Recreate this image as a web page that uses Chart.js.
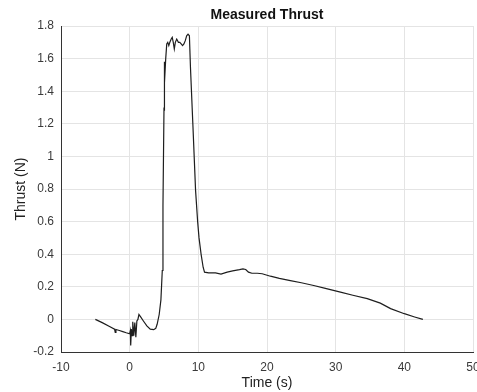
<!DOCTYPE html>
<html>
<head>
<meta charset="utf-8">
<script src="https://cdn.jsdelivr.net/npm/chart.js@4/dist/chart.umd.min.js"></script>
<style>
  html, body { margin: 0; padding: 0; background: #fff; }
  #wrap { width: 477px; height: 392px; }
</style>
</head>
<body>
<div id="wrap"><canvas id="thrustChart" width="477" height="392"></canvas></div>
<script>
// measured thrust
const timeValues = [
  -5, -4, -3, -2.2, -2.1, -2.0, -1.5, -1, -0.5, 0,
  0.1, 0.15, 0.25, 0.35, 0.45, 0.6, 0.75, 0.9, 1.05, 1.2,
  1.35, 1.6, 2.0, 2.5, 3.0, 3.5, 3.8, 4.0, 4.3, 4.55,
  4.75, 4.85, 4.95, 5.0, 5.02, 5.06, 5.12, 5.25, 5.4, 5.55,
  5.7, 5.85, 6.05, 6.2, 6.35, 6.5, 6.65, 6.85, 7.1, 7.3,
  7.5, 7.7, 7.9, 8.1, 8.3, 8.5, 8.7, 8.85, 9.2, 9.6,
  9.9, 10.1, 10.4, 10.7, 10.9, 11.5, 12.5, 13.3, 14.2, 15,
  16, 16.5, 16.9, 17.3, 17.8, 18.6, 19.3, 20.5, 21.8, 23.4,
  25, 26.8, 28.5, 30.7, 32.5, 34.6, 36.5, 38, 40, 41.5, 42.7
];
const thrustValues = [
  0, -0.02, -0.042, -0.06, -0.08, -0.062, -0.068, -0.075, -0.082, -0.088,
  -0.07, -0.16, -0.06, -0.1, -0.015, -0.1, -0.02, -0.11, -0.01, 0.0,
  0.03, 0.015, -0.01, -0.04, -0.06, -0.063, -0.055, -0.03, 0.03, 0.12,
  0.3, 0.7, 1.1, 1.3, 1.58, 1.28, 1.45, 1.6, 1.69, 1.70,
  1.68, 1.70, 1.72, 1.73, 1.70, 1.66, 1.70, 1.72, 1.70, 1.70,
  1.69, 1.68, 1.69, 1.71, 1.74, 1.75, 1.74, 1.55, 1.2, 0.79,
  0.6, 0.5, 0.4, 0.32, 0.29, 0.285, 0.285, 0.278, 0.29, 0.298,
  0.305, 0.31, 0.306, 0.29, 0.283, 0.283, 0.28, 0.265, 0.252, 0.238,
  0.225, 0.208, 0.19, 0.167, 0.148, 0.127, 0.1, 0.066, 0.035, 0.015, 0.0
];
const xTicks = [-10, 0, 10, 20, 30, 40, 50];
const yTicks = [-0.2, 0, 0.2, 0.4, 0.6, 0.8, 1, 1.2, 1.4, 1.6, 1.8];

const chartTitle = 'Measured Thrust';
const fontFamily = '"Liberation Sans", Arial, sans-serif';
const textColor = '#3a3a3a';
const gridColor = '#e4e4e4';

let points = timeValues.map((t, i) => ({ x: t, y: thrustValues[i] }));

// title is centred over the plot area like matlab does
const titlePlugin = {
  id: 'plotTitle',
  afterDraw(chart) {
    const ctx = chart.ctx;
    const area = chart.chartArea;
    ctx.save();
    ctx.font = 'bold 14px ' + fontFamily;
    ctx.fillStyle = '#111';
    ctx.textAlign = 'center';
    ctx.textBaseline = 'middle';
    ctx.fillText(chartTitle, (area.left + area.right) / 2, 15);
    ctx.restore();
  }
};

new Chart(document.getElementById('thrustChart'), {
  type: 'line',
  data: {
    datasets: [{
      data: points,
      borderColor: '#1e1e1e',
      borderWidth: 1.2,
      pointRadius: 0,
      tension: 0,
      fill: false
    }]
  },
  options: {
    responsive: false,
    animation: false,
    events: [],
    layout: { padding: { top: 26, right: 4, left: 0, bottom: 0 } },
    plugins: {
      legend: { display: false },
      tooltip: { enabled: false }
    },
    scales: {
      x: {
        type: 'linear',
        min: -10,
        max: 50,
        afterBuildTicks: s => { s.ticks = xTicks.map(v => ({ value: v })); },
        afterFit: s => { s.height = 40; s.paddingLeft = 0; s.paddingRight = 0; },
        grid: { color: gridColor, drawTicks: false },
        border: { color: '#333', width: 1 },
        ticks: {
          padding: 8,
          color: textColor,
          maxRotation: 0,
          font: { family: fontFamily, size: 12 }
        },
        title: {
          display: true,
          text: 'Time (s)',
          color: '#222',
          padding: 0,
          font: { family: fontFamily, size: 14 }
        }
      },
      y: {
        type: 'linear',
        min: -0.2,
        max: 1.8,
        afterBuildTicks: s => { s.ticks = yTicks.map(v => ({ value: v })); },
        afterFit: s => { s.width = 61; s.paddingTop = 0; s.paddingBottom = 0; },
        grid: { color: gridColor, drawTicks: false },
        border: { color: '#333', width: 1 },
        ticks: {
          padding: 7,
          color: textColor,
          font: { family: fontFamily, size: 12 },
          callback: v => String(Math.round(v * 10) / 10)
        },
        title: {
          display: true,
          text: 'Thrust (N)',
          color: '#222',
          padding: { top: 13, bottom: 0 },
          font: { family: fontFamily, size: 14 }
        }
      }
    }
  },
  plugins: [titlePlugin]
});
</script>
</body>
</html>
